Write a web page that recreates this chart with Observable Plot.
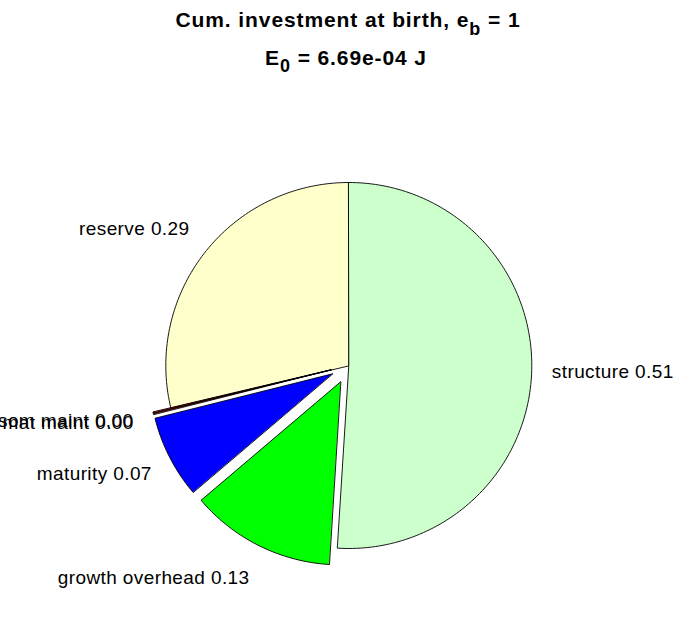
<!DOCTYPE html>
<html>
<head>
<meta charset="utf-8">
<script src="https://cdn.jsdelivr.net/npm/d3@7"></script>
<script src="https://cdn.jsdelivr.net/npm/@observablehq/plot@0.6"></script>
<style>
  html, body { margin: 0; padding: 0; background: #fff; }
  #chart { width: 696px; height: 618px; }
  #chart svg { display: block; font-family: "Liberation Sans", Arial, sans-serif; }
  #chart svg .lbl text { letter-spacing: 0.4px; }
</style>
</head>
<body>
<div id="chart"></div>
<script>
// ---- data ----
const names     = ["reserve", "som maint", "mat maint", "maturity", "growth overhead", "structure"];
const fractions = [0.287, 0.001, 0.001, 0.073, 0.128, 0.510];
const colors    = ["#FFFFCC", "#FF0000", "#800000", "#0000FF", "#00FF00", "#CCFFCC"];
const exploded  = [false, true, true, true, true, false];
const titleMain = "Cum. investment at birth, e";
const titleSub  = "b";
const titleEnd  = " = 1";
const subMain   = "E";
const subSub    = "0";
const subEnd    = " = 6.69e-04 J";

// ---- build pie geometry in unit-circle coordinates (MATLAB-style: start at top, counter-clockwise) ----
const W = 696, H = 618;
const cx = 348.3, cy = 365, R = 183;   // layout of the pie in pixels
const slices = [];
const labels = [];
let theta0 = Math.PI / 2;
fractions.forEach((f, i) => {
  const n = Math.max(1, Math.ceil(300 * f));
  const mid = theta0 + f * Math.PI;
  const ex = exploded[i] ? 0.1 * Math.cos(mid) : 0;
  const ey = exploded[i] ? 0.1 * Math.sin(mid) : 0;
  const pts = [{x: ex, y: ey}];
  for (let k = 0; k <= n; k++) {
    const t = theta0 + f * 2 * Math.PI * k / n;
    pts.push({x: ex + Math.cos(t), y: ey + Math.sin(t)});
  }
  slices.push({pts, color: colors[i]});
  labels.push({
    x: ex + 1.11 * Math.cos(mid),
    y: ey + 1.2 * Math.sin(mid),
    text: `${names[i]} ${f.toFixed(2)}`,
    anchor: Math.cos(mid) < 0 ? "end" : "start"
  });
  theta0 += f * 2 * Math.PI;
});

const marks = slices.map(s => Plot.line(s.pts, {
  x: "x", y: "y", fill: s.color, stroke: "#000", strokeWidth: 0.9, curve: "linear-closed"
}));
["end", "start"].forEach(a => {
  marks.push(Plot.text(labels.filter(d => d.anchor === a), {
    x: "x", y: "y", text: "text", textAnchor: a, fontSize: 19, fill: "#000", className: "lbl"
  }));
});

const svg = Plot.plot({
  width: W, height: H, margin: 0,
  style: {background: "#fff", fontFamily: "'Liberation Sans', Arial, sans-serif"},
  x: {domain: [-cx / R, (W - cx) / R], range: [0, W], axis: null},
  y: {domain: [-(H - cy) / R, cy / R], range: [H, 0], axis: null},
  marks
});
document.getElementById("chart").appendChild(svg);

// ---- titles with subscripts ----
const s = d3.select(svg);
const t1 = s.append("text").attr("x", 348).attr("y", 27).attr("text-anchor", "middle")
  .attr("font-weight", "bold").attr("font-size", 21).attr("letter-spacing", 0.9)
  .attr("font-family", "'Liberation Sans', Arial, sans-serif").attr("fill", "#000");
t1.append("tspan").text(titleMain);
t1.append("tspan").attr("dy", 8).attr("font-size", 18).text(titleSub);
t1.append("tspan").attr("dy", -8).text(titleEnd);
const t2 = s.append("text").attr("x", 346).attr("y", 65).attr("text-anchor", "middle")
  .attr("font-weight", "bold").attr("font-size", 21).attr("letter-spacing", 0.9)
  .attr("font-family", "'Liberation Sans', Arial, sans-serif").attr("fill", "#000");
t2.append("tspan").text(subMain);
t2.append("tspan").attr("dy", 7).attr("font-size", 18).text(subSub);
t2.append("tspan").attr("dy", -7).text(subEnd);
</script>
</body>
</html>
